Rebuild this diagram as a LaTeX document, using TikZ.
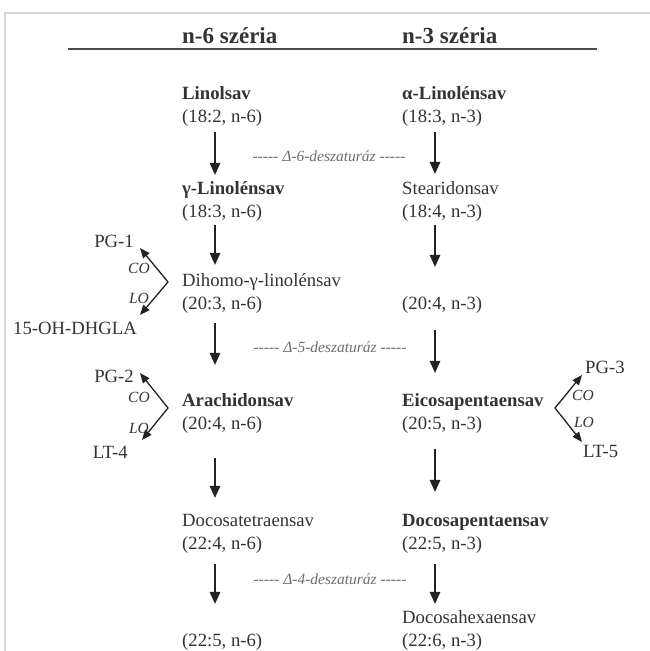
\documentclass[tikz,border=0pt]{standalone}
\usepackage{fontspec}
\setmainfont{Liberation Serif}
\usetikzlibrary{arrows.meta,calc}
\definecolor{txt}{HTML}{333333}
\definecolor{lbl}{HTML}{6E6E6E}
\definecolor{framec}{HTML}{D6D6D6}
\definecolor{arrc}{HTML}{222222}
\newcommand\fivedash{-\kern0pt-\kern0pt-\kern0pt-\kern0pt-}
\begin{document}
\begin{tikzpicture}[x=1pt,y=-1pt,
  entry/.style={anchor=north west, inner sep=0pt, align=left, text=txt,
    font=\fontsize{18.7}{23}\selectfont},
  head/.style={anchor=base west, inner sep=0pt, text=txt,
    font=\fontsize{23}{27}\selectfont\bfseries},
  side/.style={inner sep=0pt, text=txt, font=\fontsize{18.7}{23}\selectfont},
  enz/.style={inner sep=0pt, text=lbl, font=\fontsize{15.5}{18}\selectfont\itshape},
  colo/.style={inner sep=0pt, text=txt, font=\fontsize{15.5}{18}\selectfont\itshape},
  varr/.style={-{Triangle[length=12pt,width=10.5pt]}, line width=1.5pt, draw=arrc},
  sarr/.style={{Triangle[length=10pt,width=8pt]}-{Triangle[length=10pt,width=8pt]},
    line width=1.3pt, draw=arrc, line join=miter},
]
\useasboundingbox (0,0) rectangle (650,651);
% frame
\draw[framec, line width=1.5pt] (5,660) -- (5,13) -- (660,13);
% headers
\node[head] (h6) at (182,43) {n-6 széria};
\node[head] (h3) at (402,43) {n-3 széria};
\draw[black!70, line width=1.4pt] (68,49) -- (597,49);
% left column
\node[entry] (lin)  at (182,82.9)  {\strut\textbf{Linolsav}\\\strut(18:2, n-6)};
\node[entry] (gla)  at (182,177.9) {\strut\textbf{γ-Linolénsav}\\\strut(18:3, n-6)};
\node[entry] (dgla) at (182,269.9) {\strut Dihomo-γ-linolénsav\\\strut(20:3, n-6)};
\node[entry] (ara)  at (182,389.9) {\strut\textbf{Arachidonsav}\\\strut(20:4, n-6)};
\node[entry] (dta)  at (182,509.9) {\strut Docosatetraensav\\\strut(22:4, n-6)};
\node[entry] (l6)   at (182,606.9) {\strut\\\strut(22:5, n-6)};
% right column
\node[entry] (alin) at (402,82.9)  {\strut\textbf{α-Linolénsav}\\\strut(18:3, n-3)};
\node[entry] (stea) at (402,177.9) {\strut Stearidonsav\\\strut(18:4, n-3)};
\node[entry] (r3)   at (402,269.9) {\strut\\\strut(20:4, n-3)};
\node[entry] (epa)  at (402,389.9) {\strut\textbf{Eicosapentaensav}\\\strut(20:5, n-3)};
\node[entry] (dpa)  at (402,509.9) {\strut\textbf{Docosapentaensav}\\\strut(22:5, n-3)};
\node[entry] (dha)  at (402,606.9) {\strut Docosahexaensav\\\strut(22:6, n-3)};
% column axes
\coordinate (colL) at (215,0);
\coordinate (colR) at (435,0);
% vertical arrows left
\draw[varr, shorten <=3pt, shorten >=3pt]  (lin.south -| colL)  -- (gla.north -| colL);
\draw[varr, shorten <=1pt, shorten >=5pt]  (gla.south -| colL)  -- (dgla.north -| colL);
\draw[varr, shorten <=7pt, shorten >=25pt] (dgla.south -| colL) -- (ara.north -| colL);
\draw[varr, shorten <=22pt, shorten >=12pt](ara.south -| colL)  -- (dta.north -| colL);
\draw[varr, shorten <=8pt, shorten >=3pt]  (dta.south -| colL)  -- (l6.north -| colL);
% vertical arrows right
\draw[varr, shorten <=3pt, shorten >=4pt]  (alin.south -| colR) -- (stea.north -| colR);
\draw[varr, shorten <=1pt, shorten >=3pt]  (stea.south -| colR) -- (r3.north -| colR);
\draw[varr, shorten <=14pt, shorten >=17pt](r3.south -| colR)   -- (epa.north -| colR);
\draw[varr, shorten <=13pt, shorten >=18pt](epa.south -| colR)  -- (dpa.north -| colR);
\draw[varr, shorten <=8pt, shorten >=3pt]  (dpa.south -| colR)  -- (dha.north -| colR);
% enzymes
\node[enz] (d6) at (329,156) {\fivedash\ Δ-6-deszaturáz \fivedash};
\node[enz] (d5) at (330,347) {\fivedash\ Δ-5-deszaturáz \fivedash};
\node[enz] (d4) at (330,579) {\fivedash\ Δ-4-deszaturáz \fivedash};
% side products
\node[side, anchor=base east] (pg1) at (134,247) {PG-1};
\node[side, anchor=base east] (dhg) at (137,334) {15-OH-DHGLA};
\node[side, anchor=base east] (pg2) at (134,382) {PG-2};
\node[side, anchor=base east] (lt4) at (128,458) {LT-4};
\node[side, anchor=base west] (pg3) at (585,373) {PG-3};
\node[side, anchor=base west] (lt5) at (583,457) {LT-5};
\coordinate (c1) at (168,282);
\coordinate (c2) at (168,408);
\coordinate (c3) at (555,408);
\draw[sarr] ([shift={(6,1)}]pg1.base east) -- (c1) -- ([shift={(3,-19)}]dhg.base east);
\draw[sarr] ([shift={(6,-9)}]pg2.base east) -- (c2) -- ([shift={(14,-18)}]lt4.base east);
\draw[sarr] ([shift={(-3,2)}]pg3.base west) -- (c3) -- ([shift={(-1,-15)}]lt5.base west);
\node[colo] (co1) at (139,268) {CO};
\node[colo] (lo1) at (139,298) {LO};
\node[colo] (co2) at (139,397) {CO};
\node[colo] (lo2) at (139,428) {LO};
\node[colo] (co3) at (583,395) {CO};
\node[colo] (lo3) at (584,422) {LO};
\end{tikzpicture}
\end{document}
